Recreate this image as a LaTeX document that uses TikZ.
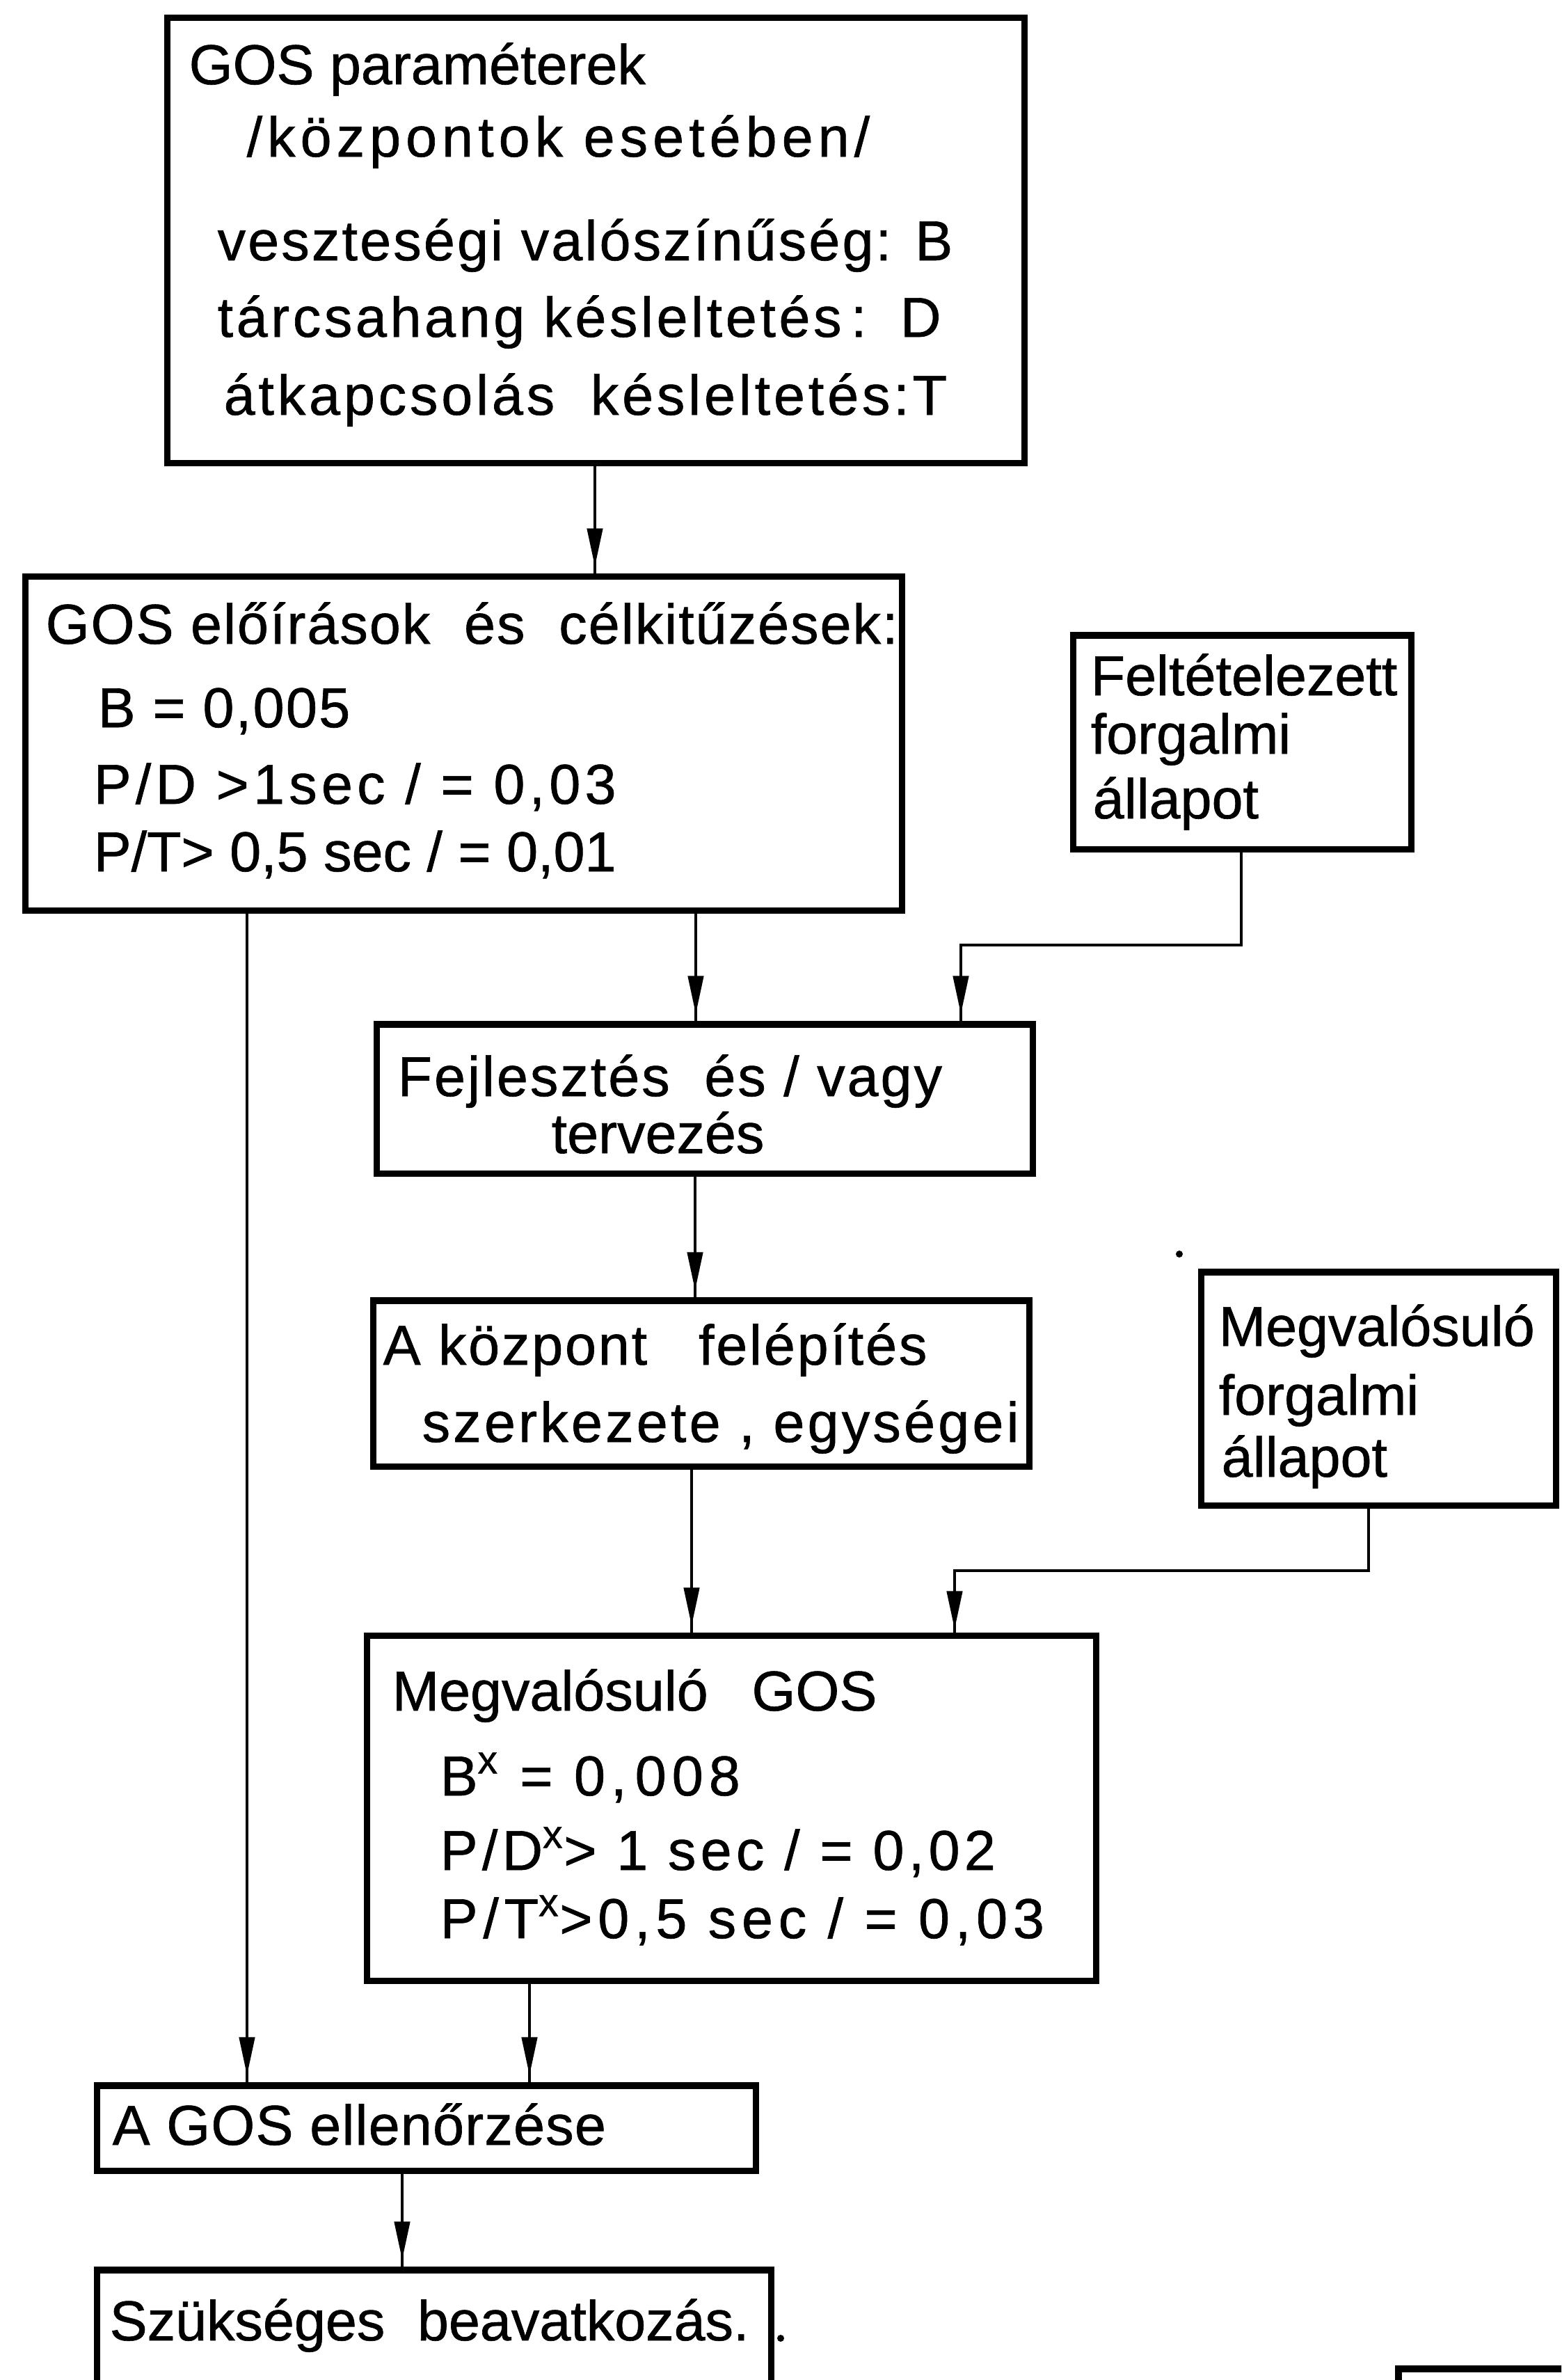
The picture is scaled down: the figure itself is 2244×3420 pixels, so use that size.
\documentclass[tikz,border=0pt]{standalone}
\usepackage{fontspec}
\setmainfont{Liberation Sans}[FakeBold=0.8]
\usetikzlibrary{arrows.meta,decorations.markings}
\newcommand{\lsp}[2]{{\addfontfeatures{LetterSpace=#1}#2}}
\begin{document}
\begin{tikzpicture}[x=0.01cm,y=-0.01cm,
  box/.style={draw,line width=2.6pt,inner sep=0pt},
  txt/.style={anchor=base west,inner sep=0pt,font=\fontsize{23}{27}\selectfont},
  arr/.style={line width=1.3pt,postaction={decorate},
    decoration={markings,mark=at position -#1 with {\arrow{Triangle[length=0.55cm,width=0.22cm]}}}},
  arr/.default=0.1cm]
\useasboundingbox (0,0) rectangle (2244,3420);
\clip (0,0) rectangle (2244,3420);

% boxes
\node[box,minimum width=12.31cm,minimum height=6.39cm] (b1) at (856.5,345.5) {};
\node[box,minimum width=12.59cm,minimum height=4.79cm] (b2) at (666.5,1068.5) {};
\node[box,minimum width=4.85cm,minimum height=3.07cm] (b3) at (1785.5,1066.5) {};
\node[box,minimum width=9.42cm,minimum height=2.14cm] (b4) at (1013,1579) {};
\node[box,minimum width=9.42cm,minimum height=2.38cm] (b5) at (1008,1988) {};
\node[box,minimum width=5.09cm,minimum height=3.35cm] (b6) at (1981.5,1995.5) {};
\node[box,minimum width=10.47cm,minimum height=4.95cm] (b7) at (1051.5,2598.5) {};
\node[box,minimum width=9.46cm,minimum height=1.22cm] (b8) at (613,3058) {};
\node[box,minimum width=9.68cm,minimum height=2.08cm] (b9) at (624,3366) {};

% texts
\node[txt] (t11) at (271,121) {GOS paraméterek};
\node[txt] (t12) at (354,225) {\lsp{8.7}{/központok esetében/}};
\node[txt] (t13) at (312,374) {\lsp{3.9}{veszteségi valószínűség: B}};
\node[txt] (t14) at (312,484) {\lsp{5.7}{tárcsahang késleltetés\,:\hspace{0.6em}D}};
\node[txt] (t15) at (321,596) {\lsp{6}{átkapcsolás\hspace{0.3em} késleltetés:T}};

\node[txt] (t21) at (65,925) {\lsp{2.5}{GOS előírások\hspace{0.3em} és\hspace{0.3em} célkitűzések:}};
\node[txt] (t22) at (140,1045) {\lsp{2.9}{B = 0,005}};
\node[txt] (t23) at (134,1155) {\lsp{7.7}{P/D >1sec / = 0,03}};
\node[txt] (t24) at (134,1252) {P/T> 0,5 sec / = 0,01};

\node[txt] (t31) at (1567,999) {Feltételezett};
\node[txt] (t32) at (1567,1083) {forgalmi};
\node[txt] (t33) at (1570,1176) {állapot};

\node[txt] (t41) at (571,1575) {\lsp{3.7}{Fejlesztés\hspace{0.3em} és / vagy}};
\node[txt] (t42) at (792,1657) {tervezés};

\node[txt] (t51) at (550,1961) {\lsp{3.5}{A központ\hspace{0.6em} felépítés}};
\node[txt] (t52) at (606,2072) {\lsp{5.2}{szerkezete , egységei}};

\node[txt] (t61) at (1751,1934) {Megvalósuló};
\node[txt] (t62) at (1751,2033) {forgalmi};
\node[txt] (t63) at (1755,2122) {állapot};

\node[txt] (t71) at (563,2458) {Megvalósuló\hspace{0.5em} GOS};
\node[txt] (t72) at (632,2580) {\lsp{10}{B\textsuperscript{x} = 0,\hspace{0.15em}008}};
\node[txt] (t73) at (632,2687) {\lsp{7.8}{P/D\textsuperscript{x}> 1 sec / = 0,02}};
\node[txt] (t74) at (632,2785) {\lsp{9.7}{P/T\textsuperscript{x}>0,5 sec / = 0,03}};

\node[txt] (t81) at (161,3082) {\lsp{1.5}{A GOS ellenőrzése}};
\node[txt] (t91) at (157,3363) {Szükséges\hspace{0.3em} beavatkozás.};

% bend points
\coordinate (k1) at (1381,1358);
\coordinate (k2) at (1372,2257);

% connectors
\draw[arr] (855,0 |- b1.south) -- (855,0 |- b2.north);
\draw[arr] (1000,0 |- b2.south) -- (1000,0 |- b4.north);
\draw[arr] (1784,0 |- b3.south) |- (k1) -- (k1 |- b4.north);
\draw[arr] (999,0 |- b4.south) -- (999,0 |- b5.north);
\draw[arr] (994,0 |- b5.south) -- (994,0 |- b7.north);
\draw[arr=0.05cm] (1967,0 |- b6.south) |- (k2) -- (k2 |- b7.north);
\draw[arr] (355,0 |- b2.south) -- (355,0 |- b8.north);
\draw[arr] (761,0 |- b7.south) -- (761,0 |- b8.north);
\draw[arr] (578,0 |- b8.south) -- (578,0 |- b9.north);

% partial box at the lower right edge
\draw[line width=2.6pt] (2010,3440) -- (2010,3404) -- (2260,3404);
% specks
\fill (1695,1802) circle (5);
\fill (1122,3360) circle (5);
\end{tikzpicture}
\end{document}
